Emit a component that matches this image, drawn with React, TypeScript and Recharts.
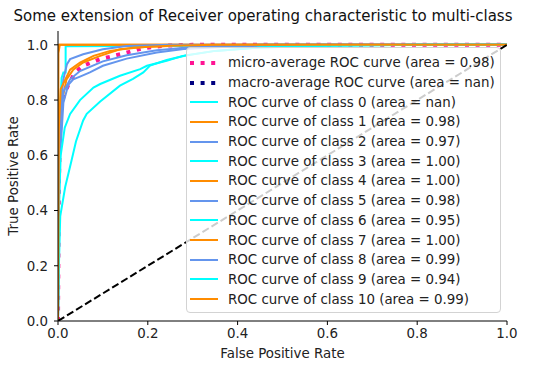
import { LineChart, Line, XAxis, YAxis } from "recharts";

// ROC points as [false positive rate, true positive rate]
const microAvg = [
  [0, 0], [0.002, 0.5], [0.005, 0.72], [0.01, 0.8], [0.016, 0.83], [0.023, 0.855], [0.038, 0.9],
  [0.056, 0.924], [0.094, 0.948], [0.13, 0.962], [0.19, 0.988], [0.24, 0.997], [0.3, 1], [1, 1],
];
const macroAvg: number[][] = []; // nan
const class0: number[][] = []; // nan
const class1 = [
  [0, 0], [0.002, 0.6], [0.008, 0.79], [0.019, 0.875], [0.034, 0.91], [0.056, 0.936], [0.094, 0.96],
  [0.138, 0.984], [0.2, 0.993], [0.3, 0.998], [0.45, 1], [1, 1],
];
const class2 = [
  [0, 0], [0.003, 0.55], [0.012, 0.79], [0.023, 0.855], [0.034, 0.875], [0.049, 0.885], [0.071, 0.9],
  [0.1, 0.924], [0.153, 0.95], [0.22, 0.972], [0.28, 0.985], [0.4, 0.995], [0.6, 1], [1, 1],
];
const class3 = [
  [0, 0], [0, 0.6], [0.008, 0.88], [0.012, 0.9], [0.017, 0.9], [0.017, 0.995], [0.3, 0.997], [0.5, 1], [1, 1],
];
const class4 = [[0, 0], [0.001, 0.97], [0.004, 1], [1, 1]];
const class5 = [
  [0, 0], [0.003, 0.65], [0.012, 0.83], [0.027, 0.875], [0.049, 0.905], [0.1, 0.94], [0.153, 0.962],
  [0.22, 0.98], [0.3, 0.992], [0.45, 1], [1, 1],
];
const class6 = [
  [0, 0], [0.002, 0.4], [0.006, 0.6], [0.015, 0.7], [0.027, 0.75], [0.049, 0.8], [0.079, 0.845],
  [0.094, 0.858], [0.138, 0.888], [0.183, 0.912], [0.198, 0.924], [0.242, 0.942], [0.278, 0.96],
  [0.35, 0.978], [0.45, 0.99], [0.6, 0.997], [0.8, 1], [1, 1],
];
const class7 = [[0, 0], [0, 1], [1, 1]];
const class8 = [
  [0, 0], [0.002, 0.7], [0.012, 0.875], [0.02, 0.93], [0.027, 0.948], [0.056, 0.966], [0.1, 0.984],
  [0.153, 0.996], [0.25, 1], [1, 1],
];
const class9 = [
  [0, 0], [0.002, 0.2], [0.005, 0.38], [0.016, 0.485], [0.03, 0.58], [0.04, 0.65], [0.056, 0.726],
  [0.064, 0.75], [0.094, 0.795], [0.138, 0.852], [0.167, 0.877], [0.19, 0.9], [0.205, 0.925],
  [0.242, 0.945], [0.287, 0.962], [0.35, 0.978], [0.45, 0.99], [0.6, 0.997], [0.8, 1], [1, 1],
];
const class10 = [
  [0, 0], [0.002, 0.7], [0.006, 0.84], [0.027, 0.91], [0.049, 0.936], [0.079, 0.96], [0.116, 0.978],
  [0.17, 0.99], [0.25, 0.997], [0.35, 1], [1, 1],
];
const diagonal = [[0, 0], [1, 1]];

const classCurves = [class0, class1, class2, class3, class4, class5, class6, class7, class8, class9, class10];
const classAreas = ["nan", "0.98", "0.97", "1.00", "1.00", "0.98", "0.95", "1.00", "0.99", "0.94", "0.99"];
const palette = ["aqua", "darkorange", "cornflowerblue"];
const ticks = [0, 0.2, 0.4, 0.6, 0.8, 1.0];

const toPts = (a: number[][]) => a.map(([x, y]) => ({ x, y }));

type Entry = { label: string; color: string; dotted: boolean };
const entries: Entry[] = [
  { label: "micro-average ROC curve (area = 0.98)", color: "deeppink", dotted: true },
  { label: "macro-average ROC curve (area = nan)", color: "navy", dotted: true },
  ...classAreas.map((a, i) => ({
    label: `ROC curve of class ${i} (area = ${a})`,
    color: palette[i % 3],
    dotted: false,
  })),
];

const font = "'DejaVu Sans', sans-serif";

function LegendBox() {
  return (
    <div
      style={{
        position: "absolute", left: 186, top: 47, width: 315, height: 266,
        border: "1px solid #d3d3d3", borderRadius: 4, background: "rgba(255,255,255,0.8)",
        boxSizing: "border-box", paddingTop: 5, fontSize: 13.4, color: "#222",
      }}
    >
      {entries.map((e) => (
        <div key={e.label} style={{ height: 19.7, display: "flex", alignItems: "center", whiteSpace: "nowrap" }}>
          <svg width={28} height={8} style={{ marginLeft: 3, marginRight: 10, flexShrink: 0 }}>
            {e.dotted ? (
              <line x1={0} y1={4} x2={28} y2={4} stroke={e.color} strokeWidth={4} strokeDasharray="4 6.6" />
            ) : (
              <line x1={0} y1={4} x2={28} y2={4} stroke={e.color} strokeWidth={2} />
            )}
          </svg>
          <span>{e.label}</span>
        </div>
      ))}
    </div>
  );
}

export default function App() {
  return (
    <div style={{ position: "absolute", left: 0, top: 0, width: 559, height: 371, fontFamily: font, background: "#fff" }}>
      <div style={{ position: "absolute", left: 0, width: 526, top: 7, textAlign: "center", fontSize: 15, color: "#111", whiteSpace: "nowrap" }}>
        Some extension of Receiver operating characteristic to multi-class
      </div>
      <LineChart width={559} height={371} margin={{ top: 31, right: 52, bottom: 0, left: 0 }}>
        <XAxis
          dataKey="x" type="number" domain={[0, 1]} ticks={ticks} tickFormatter={(v: number) => v.toFixed(1)}
          height={50} tickSize={4} tickMargin={3} stroke="#000" allowDuplicatedCategory={false} allowDataOverflow
          tick={{ fontSize: 13.4, fill: "#222" }}
          label={{
            content: (p: any) => (
              <text x={p.viewBox.x + p.viewBox.width / 2} y={p.viewBox.y + 37} textAnchor="middle" fontSize={13.4} fill="#222">
                False Positive Rate
              </text>
            ),
          }}
        />
        <XAxis xAxisId="top" orientation="top" type="number" domain={[0, 1]} tick={false} tickLine={false} height={0} stroke="#000" />
        <YAxis
          type="number" domain={[0, 1.05]} ticks={ticks} tickFormatter={(v: number) => v.toFixed(1)} allowDataOverflow
          width={58} tickSize={4} tickMargin={6} stroke="#000" tick={{ fontSize: 13.4, fill: "#222" }}
          label={{
            content: (p: any) => {
              const cx = p.viewBox.x + 18;
              const cy = p.viewBox.y + p.viewBox.height / 2;
              return (
                <text x={cx} y={cy} transform={`rotate(-90 ${cx} ${cy})`} textAnchor="middle" fontSize={13.4} fill="#222">
                  True Positive Rate
                </text>
              );
            },
          }}
        />
        <YAxis yAxisId="right" orientation="right" type="number" domain={[0, 1.05]} tick={false} tickLine={false} width={0} stroke="#000" />
        <Line data={toPts(microAvg)} dataKey="y" stroke="deeppink" strokeWidth={4} strokeDasharray="4 6.6"
          dot={false} activeDot={false} isAnimationActive={false} type="linear" />
        <Line data={toPts(macroAvg)} dataKey="y" stroke="navy" strokeWidth={4} strokeDasharray="4 6.6"
          dot={false} activeDot={false} isAnimationActive={false} type="linear" />
        {classCurves.map((c, i) => (
          <Line key={i} data={toPts(c)} dataKey="y" stroke={palette[i % 3]} strokeWidth={2}
            dot={false} activeDot={false} isAnimationActive={false} type="linear" />
        ))}
        <Line data={toPts(diagonal)} dataKey="y" stroke="#000" strokeWidth={2} strokeDasharray="7.4 3.2"
          dot={false} activeDot={false} isAnimationActive={false} type="linear" />
      </LineChart>
      <LegendBox />
    </div>
  );
}
